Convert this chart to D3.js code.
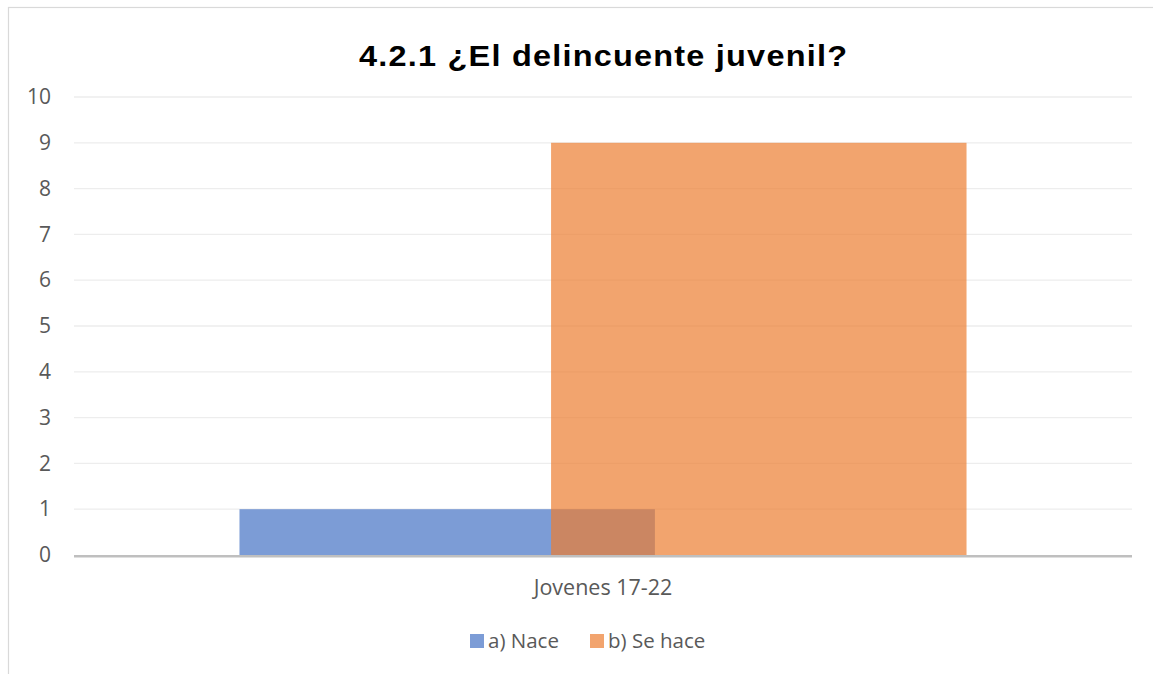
<!DOCTYPE html>
<html>
<head>
<meta charset="utf-8">
<script src="https://cdn.jsdelivr.net/npm/d3@7"></script>
<style>
  html, body { margin: 0; padding: 0; background: #fff; }
  svg { display: block; }
</style>
</head>
<body>
<svg id="chart"></svg>
<script>
'use strict';
// ── Data ──────────────────────────────────────────────────────────────────
const categories = ['Jovenes 17-22'];
const seriesNames = ['a) Nace', 'b) Se hace'];
const seriesValues = [[1], [9]];
const seriesColors = ['#4472C4', '#ED7D31'];
const yTicks = [0, 1, 2, 3, 4, 5, 6, 7, 8, 9, 10];
const title = '4.2.1 ¿El delincuente juvenil?';

const width = 1153, height = 674;
const margin = { left: 74, right: 21, top: 97, bottom: 119 };
const overlap = 0.25;
const FONT = 'Open Sans, Noto Sans, sans-serif';

const svg = d3.select('#chart').attr('width', width).attr('height', height);

// ── Frame ─────────────────────────────────────────────────────────────────
svg.append('rect')
  .attr('x', 8.5).attr('y', 7.5)
  .attr('width', width + 10).attr('height', height + 10)
  .attr('fill', 'none').attr('stroke', '#D9D9D9').attr('stroke-width', 1.2);

// ── Scales ────────────────────────────────────────────────────────────────
const x = d3.scaleBand()
  .domain(categories)
  .range([margin.left, width - margin.right])
  .paddingInner(0)
  .paddingOuter(0.2276);

const y = d3.scaleLinear()
  .domain([0, 10])
  .range([height - margin.bottom, margin.top]);

// ── Gridlines ─────────────────────────────────────────────────────────────
svg.append('g').selectAll('line')
  .data(yTicks.filter(t => t > 0)).join('line')
  .attr('x1', margin.left).attr('x2', width - margin.right)
  .attr('y1', d => y(d)).attr('y2', d => y(d))
  .attr('stroke', '#EDEDED').attr('stroke-width', 1.3);

// ── Y axis labels ─────────────────────────────────────────────────────────
const yAxis = svg.append('g')
  .attr('transform', `translate(${margin.left - 23},0)`)
  .call(d3.axisLeft(y).tickValues(yTicks).tickSize(0).tickPadding(0));
yAxis.select('.domain').remove();
yAxis.selectAll('text')
  .attr('fill', '#595959')
  .style('font-family', FONT)
  .style('font-size', '21px');

// ── Bars ──────────────────────────────────────────────────────────────────
const barW = x.bandwidth() / (2 - overlap);
const bars = svg.append('g');
seriesNames.forEach((name, i) => {
  bars.selectAll(null)
    .data(categories).join('rect')
    .attr('x', c => x(c) + i * barW * (1 - overlap))
    .attr('width', barW)
    .attr('y', (c, j) => y(seriesValues[i][j]))
    .attr('height', (c, j) => y(0) - y(seriesValues[i][j]))
    .attr('fill', seriesColors[i])
    .attr('fill-opacity', 0.7);
});

// ── X axis ────────────────────────────────────────────────────────────────
svg.append('line')
  .attr('x1', margin.left).attr('x2', width - margin.right)
  .attr('y1', y(0) + 1.3).attr('y2', y(0) + 1.3)
  .attr('stroke', '#BFBFBF').attr('stroke-width', 2.6);

svg.append('g').selectAll('text')
  .data(categories).join('text')
  .attr('x', c => x(c) + x.bandwidth() / 2)
  .attr('y', y(0) + 40)
  .attr('text-anchor', 'middle')
  .attr('fill', '#595959')
  .style('font-family', FONT)
  .style('font-size', '21.5px')
  .text(c => c);

// ── Title (glyphs a little wide, as in the picture) ───────────────────────
const titleScale = 1.12;
svg.append('text')
  .attr('transform', `translate(603,66) scale(${titleScale},1)`)
  .attr('text-anchor', 'middle')
  .attr('fill', '#000')
  .attr('textLength', 488 / titleScale)
  .attr('lengthAdjust', 'spacing')
  .style('font-family', 'Liberation Sans, Arial, sans-serif')
  .style('font-weight', 'bold')
  .style('font-size', '29px')
  .text(title);

// ── Legend ────────────────────────────────────────────────────────────────
const legendX = [470, 590];
const legend = svg.append('g');
seriesNames.forEach((name, i) => {
  legend.append('rect')
    .attr('x', legendX[i]).attr('y', 634)
    .attr('width', 14).attr('height', 14)
    .attr('fill', seriesColors[i]).attr('fill-opacity', 0.7);
  legend.append('text')
    .attr('x', legendX[i] + 18).attr('y', 648)
    .attr('fill', '#595959')
    .style('font-family', FONT)
    .style('font-size', '20.5px')
    .text(name);
});
</script>
</body>
</html>
